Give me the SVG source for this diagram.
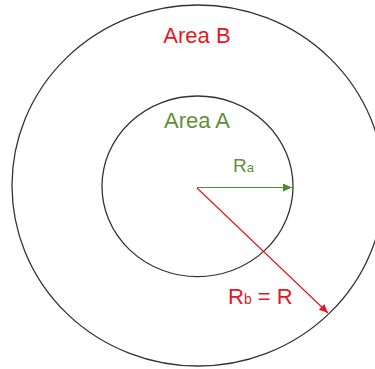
<svg xmlns="http://www.w3.org/2000/svg" width="375" height="369" viewBox="0 0 375 369">
<style>
.ring{fill:none;stroke:#333;stroke-width:1.3}
.lbl{font-family:"Liberation Sans",Arial,sans-serif}
.red{fill:#e3191f}
.green{fill:#5f8f3a}
</style>
<defs>
<marker id="ag" markerUnits="userSpaceOnUse" markerWidth="10" markerHeight="8" refX="9" refY="4" orient="auto">
<path d="M0,0 L9,4 L0,8 Z" fill="#4f8a2e"/>
</marker>
<marker id="ar" markerUnits="userSpaceOnUse" markerWidth="10" markerHeight="8" refX="9" refY="4" orient="auto">
<path d="M0,0 L9,4 L0,8 Z" fill="#e3191f"/>
</marker>
</defs>
<rect width="375" height="369" fill="#fff"/>
<g id="areaB">
<ellipse class="ring" cx="198" cy="185.5" rx="186" ry="180.5"/>
<text class="lbl red" x="197" y="43" font-size="22" text-anchor="middle">Area B</text>
</g>
<g id="areaA">
<ellipse class="ring" cx="197.5" cy="186.3" rx="95.5" ry="90.3"/>
<text class="lbl green" x="197" y="128" font-size="22" text-anchor="middle">Area A</text>
</g>
<g id="connectors">
<line x1="197" y1="187.5" x2="292" y2="187.5" stroke="#4f8a2e" stroke-width="1.2" marker-end="url(#ag)"/>
<line x1="197" y1="188" x2="328" y2="313" stroke="#e3191f" stroke-width="1.2" marker-end="url(#ar)"/>
</g>
<g id="labelRa">
<text class="lbl green" x="233" y="172" font-size="19">R<tspan font-size="13">a</tspan></text>
</g>
<g id="labelRb">
<text class="lbl red" x="228" y="304" font-size="22">R<tspan font-size="14">b</tspan> = R</text>
</g>
</svg>
